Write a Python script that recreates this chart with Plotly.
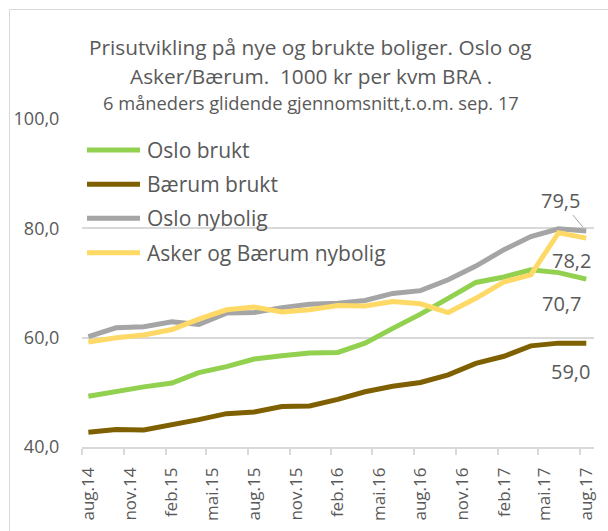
import plotly.graph_objects as go

# ---- data ----
dates = ["2014-08-15", "2014-10-15", "2014-12-15", "2015-02-15", "2015-04-15",
         "2015-06-15", "2015-08-15", "2015-10-15", "2015-12-15", "2016-02-15",
         "2016-04-15", "2016-06-15", "2016-08-15", "2016-10-15", "2016-12-15",
         "2017-02-15", "2017-04-15", "2017-06-15", "2017-08-15"]
oslo_brukt = [49.3, 50.2, 51.0, 51.7, 53.6, 54.7, 56.1, 56.7, 57.2, 57.3,
              59.0, 61.7, 64.3, 67.2, 70.1, 71.1, 72.4, 71.9, 70.7]
baerum_brukt = [42.7, 43.2, 43.1, 44.0, 45.0, 46.1, 46.4, 47.4, 47.5, 48.7,
                50.1, 51.1, 51.8, 53.2, 55.3, 56.6, 58.5, 59.0, 59.0]
oslo_nybolig = [60.2, 61.8, 62.0, 62.9, 62.4, 64.5, 64.6, 65.5, 66.1, 66.3,
                66.8, 68.1, 68.6, 70.6, 73.1, 76.1, 78.5, 79.9, 79.5]
ab_nybolig = [59.2, 60.0, 60.5, 61.5, 63.4, 65.1, 65.6, 64.7, 65.1, 65.9,
              65.8, 66.6, 66.2, 64.6, 67.2, 70.2, 71.5, 79.2, 78.2]

series_names = ["Oslo brukt", "Bærum brukt", "Oslo nybolig", "Asker og Bærum nybolig"]
series_values = [oslo_brukt, baerum_brukt, oslo_nybolig, ab_nybolig]
series_colors = ["#92D050", "#7F6000", "#A5A5A5", "#FFD966"]

tick_labels = ["aug.14", "nov.14", "feb.15", "mai.15", "aug.15", "nov.15", "feb.16",
               "mai.16", "aug.16", "nov.16", "feb.17", "mai.17", "aug.17"]
tick_label_dates = ["2014-08-16", "2014-11-16", "2015-02-15", "2015-05-16", "2015-08-16",
                    "2015-11-16", "2016-02-15", "2016-05-16", "2016-08-16", "2016-11-16",
                    "2017-02-15", "2017-05-16", "2017-08-16"]
tick_mark_dates = ["2014-08-01", "2014-11-01", "2015-02-01", "2015-05-01", "2015-08-01",
                   "2015-11-01", "2016-02-01", "2016-05-01", "2016-08-01", "2016-11-01",
                   "2017-02-01", "2017-05-01", "2017-08-01"]

title_lines = ["Prisutvikling på nye og brukte boliger. Oslo og",
               "Asker/Bærum.  1000 kr per kvm BRA .",
               "6 måneders glidende gjennomsnitt,t.o.m. sep. 17"]

# ---- layout geometry (pixels) ----
W, H = 608, 531
L, R, T, B = 82, 14, 119, 84
PW, PH = W - L - R, H - T - B
FONT = "Open Sans"
TXT = "#595959"
GRID = "#D9D9D9"


def px(xp):
    return (xp - L) / PW


def py(yp):
    return (H - B - yp) / PH


fig = go.Figure()
for name, vals, col in zip(series_names, series_values, series_colors):
    fig.add_trace(go.Scatter(x=dates, y=vals, mode="lines", name=name,
                             line=dict(color=col, width=5), showlegend=False,
                             hoverinfo="x+y+name"))

annotations = []
# title
for txt, yc, sz in zip(title_lines, [46.5, 75.5, 102.5], [20.8, 20.8, 18.3]):
    annotations.append(dict(text=txt, x=px(310.5), y=py(yc), xref="paper", yref="paper",
                            xanchor="center", yanchor="middle", showarrow=False,
                            font=dict(family=FONT, size=sz, color=TXT)))

# manual legend
shapes = []
legend_rows = [150.0, 184.3, 218.3, 252.7]
for name, col, yr in zip(series_names, series_colors, legend_rows):
    shapes.append(dict(type="line", xref="paper", yref="paper", x0=px(87), x1=px(140),
                       y0=py(yr), y1=py(yr), line=dict(color=col, width=5)))
    annotations.append(dict(text=name, x=px(145), y=py(yr), xref="paper", yref="paper",
                            xanchor="left", yanchor="middle", showarrow=False,
                            font=dict(family=FONT, size=21, color=TXT)))

# data labels for last points
last = dates[-1]
lab_font = dict(family=FONT, size=20, color=TXT)
annotations.append(dict(x=last, y=oslo_nybolig[-1], text=f"{oslo_nybolig[-1]:.1f}".replace(".", ","),
                        showarrow=True, ax=-26, ay=-31, arrowhead=0, arrowwidth=1,
                        arrowcolor="#A5A5A5", standoff=5, font=lab_font))
for vals, dx, dy in [(ab_nybolig, -14.6, -22.7), (oslo_brukt, -24.6, -24.7),
                     (baerum_brukt, -15.3, -28.5)]:
    annotations.append(dict(x=last, y=vals[-1], text=f"{vals[-1]:.1f}".replace(".", ","),
                            showarrow=False, xshift=dx, yshift=dy, font=lab_font))

# chart border (left and top)
shapes.append(dict(type="line", xref="paper", yref="paper", x0=px(9.5), x1=px(9.5),
                   y0=py(9.5), y1=py(531), line=dict(color=GRID, width=1)))
shapes.append(dict(type="line", xref="paper", yref="paper", x0=px(9.5), x1=px(608),
                   y0=py(9.5), y1=py(9.5), line=dict(color=GRID, width=1)))

fig.update_layout(
    width=W, height=H,
    margin=dict(l=L, r=R, t=T, b=B, autoexpand=False),
    paper_bgcolor="white", plot_bgcolor="white",
    separators=",.",
    font=dict(family=FONT, color=TXT, size=18),
    annotations=annotations, shapes=shapes,
    showlegend=False,
    xaxis=dict(type="date", range=["2014-08-01", "2017-09-01"], automargin=False,
               tickmode="array", tickvals=tick_label_dates, ticktext=tick_labels,
               tickangle=-90, ticks="outside", ticklen=12, tickcolor="rgba(0,0,0,0)",
               showgrid=False, zeroline=False,
               showline=True, linecolor=GRID, linewidth=1.5,
               tickfont=dict(family=FONT, size=17, color=TXT),
               minor=dict(tickmode="array", tickvals=tick_mark_dates, ticks="outside",
                          ticklen=6, tickcolor=GRID, tickwidth=1.5, showgrid=False)),
    yaxis=dict(range=[40, 100], tickmode="linear", tick0=40, dtick=20, tickformat=".1f",
               automargin=False,
               showgrid=True, gridcolor=GRID, gridwidth=1.5, zeroline=False,
               showline=False, ticks="outside", ticklen=18, tickcolor="rgba(0,0,0,0)",
               tickfont=dict(family=FONT, size=18, color=TXT)),
)

fig.write_html("out.html", config={"displayModeBar": False},
               post_script="document.body.style.margin='0';document.body.style.overflow='hidden';")
